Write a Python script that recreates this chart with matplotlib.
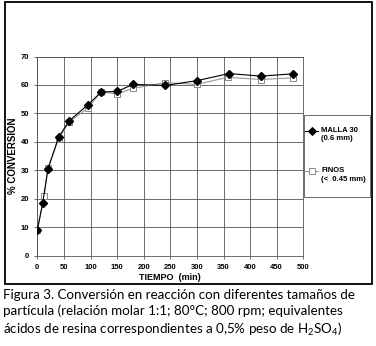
# Conversion vs time for two resin particle sizes
import matplotlib.pyplot as plt
from matplotlib.patches import Rectangle
from matplotlib.lines import Line2D

plt.rcParams['mathtext.fontset'] = 'custom'
plt.rcParams['mathtext.rm'] = 'Lato'
plt.rcParams['mathtext.it'] = 'Lato'

# data
t_malla = [0, 10, 20, 40, 60, 95, 120, 150, 180, 240, 300, 360, 420, 480]
conv_malla = [8.8, 18.4, 30.4, 41.6, 47.4, 53.0, 57.5, 57.7, 60.2, 59.8, 61.5, 64.0, 63.1, 63.9]
t_finos = [0, 13, 20, 40, 60, 96, 120, 150, 180, 240, 300, 358, 420, 480]
conv_finos = [9.0, 20.8, 30.8, 41.0, 47.0, 52.0, 57.6, 56.8, 58.8, 60.8, 60.2, 62.7, 61.9, 62.5]
labels = ['MALLA 30\n(0.6 mm)', 'FINOS\n(<  0.45 mm)']
x_ticks = list(range(0, 501, 50))
y_ticks = list(range(0, 71, 10))

W, H = 376, 346
fig = plt.figure(figsize=(W / 100, H / 100), dpi=100)
ax = fig.add_axes([37.3 / W, 1 - 255.5 / H, 266 / W, 199 / H])

ax.plot(t_finos, conv_finos, color='#999999', lw=0.8, marker='s', ms=5,
        mfc='white', mec='#888888', mew=0.7, zorder=3)
ax.plot(t_malla, conv_malla, color='black', lw=0.8, marker='D', ms=3.8,
        mfc='black', mec='black', zorder=4)

ax.set_xlim(0, 500)
ax.set_ylim(0, 70)
ax.set_xticks(x_ticks)
ax.set_yticks(y_ticks)
ax.grid(True, color='#555555', lw=0.6)
for s in ax.spines.values():
    s.set_color('#555555')
    s.set_linewidth(0.6)
ax.tick_params(labelsize=5.5, length=2, width=0.6, color='#555555', pad=4)
for lab in ax.get_xticklabels() + ax.get_yticklabels():
    lab.set_fontweight('bold')
    lab.set_family('Liberation Sans')

ax.set_xlabel('TIEMPO  (min)', fontsize=6.5, fontweight='bold', family='Liberation Sans')
ax.set_ylabel('% CONVERSIÓN', fontsize=7, fontweight='bold', family='Liberation Sans')
ax.xaxis.set_label_coords(0.5, (255.5 - 273) / 199)
ax.yaxis.set_label_coords((18.5 - 37.3) / 266, 0.5)

# legend box drawn by hand, MALLA first
fig.patches.append(Rectangle((304 / W, 1 - 197 / H), 66 / W, 82 / H, transform=fig.transFigure,
                             fill=False, ec='#555555', lw=0.6))
leg_rows = [(131, 'black', 'D', 3.8, 'black', labels[0]),
            (171, '#999999', 's', 5, 'white', labels[1])]
for y, c, m, ms, fc, txt in leg_rows:
    fig.lines.append(Line2D([305 / W, 318 / W], [1 - y / H, 1 - y / H], transform=fig.transFigure,
                            color=c, lw=0.8))
    fig.lines.append(Line2D([311.5 / W], [1 - y / H], transform=fig.transFigure, color=c,
                            marker=m, ms=ms, mfc=fc, mec=('black' if fc == 'black' else '#888888'),
                            mew=0.7, lw=0))
    fig.text(321 / W, 1 - (y - 4) / H, txt, ha='left', va='top', fontsize=5.5,
             fontweight='bold', family='Liberation Sans', linespacing=1.3)

# outer frame
fig.patches.append(Rectangle((5 / W, 1 - 284 / H), 367 / W, 282 / H, transform=fig.transFigure,
                             fill=False, ec='black', lw=1.3))

caption = ('Figura 3. Conversión en reacción con diferentes tamaños de\n'
           'partícula (relación molar 1:1; 80°C; 800 rpm; equivalentes\n'
           'ácidos de resina correspondientes a 0,5% peso de H$_2$SO$_4$)')
fig.text(3 / W, 1 - 289 / H, caption, ha='left', va='top', fontsize=9.6,
         family='Lato', linespacing=1.3)

fig.savefig('out.png', dpi=100)
